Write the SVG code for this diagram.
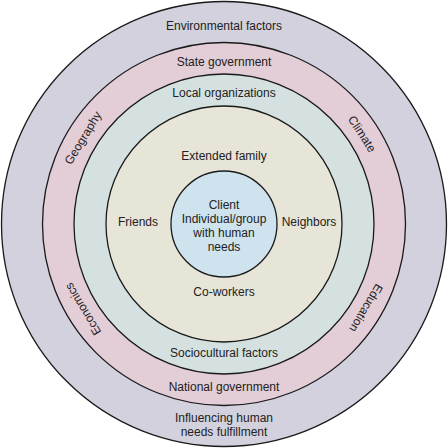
<svg xmlns="http://www.w3.org/2000/svg" width="448" height="448" viewBox="0 0 448 448">
<style>
.ring{stroke:#1a1a1a;stroke-width:1.3}
text{font-family:"Liberation Sans",Arial,sans-serif;font-size:12px;fill:#222;text-anchor:middle}
</style>
<rect width="448" height="448" fill="#fff"/>
<g id="environmental">
<circle class="ring" cx="224" cy="224" r="222.5" fill="#d2d1dd"/>
<text x="224" y="30">Environmental factors</text>
<text x="224" y="422">Influencing human</text>
<text x="224" y="436">needs fulfillment</text>
</g>
<g id="government">
<circle class="ring" cx="224" cy="224" r="181.5" fill="#e3cdd6"/>
<text x="224" y="66">State government</text>
<text x="224" y="391">National government</text>
<text transform="translate(83,138) rotate(-58.6)" y="4">Geography</text>
<text transform="translate(362,134) rotate(57)" y="4">Climate</text>
<text transform="translate(366,308) rotate(120.6)" y="4">Education</text>
<text transform="translate(83,309) rotate(-121)" y="4">Economics</text>
</g>
<g id="local">
<circle class="ring" cx="224" cy="224" r="150" fill="#d4e1e0"/>
<text x="224" y="97">Local organizations</text>
<text x="224" y="357">Sociocultural factors</text>
</g>
<g id="social">
<circle class="ring" cx="224" cy="224" r="118" fill="#e7e4d8"/>
<text x="224" y="160">Extended family</text>
<text x="138" y="226">Friends</text>
<text x="309" y="226">Neighbors</text>
<text x="224" y="296">Co-workers</text>
</g>
<g id="client">
<circle class="ring" cx="224" cy="224" r="53" fill="#cfe3ef"/>
<text x="224" y="209">Client</text>
<text x="224" y="223">Individual/group</text>
<text x="224" y="237">with human</text>
<text x="224" y="251">needs</text>
</g>
</svg>
